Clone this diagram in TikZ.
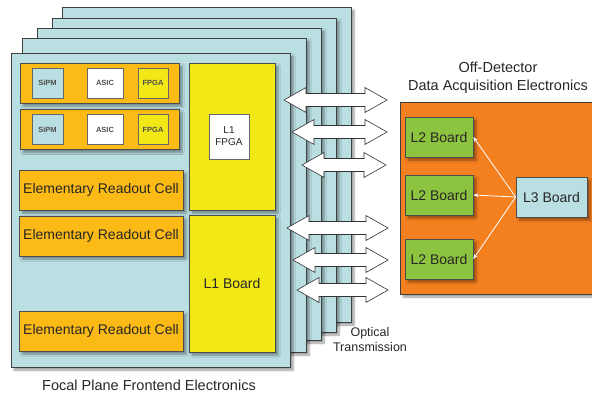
\documentclass[tikz,border=0pt]{standalone}
\usepackage{fontspec}
\setmainfont{Liberation Sans}
\usetikzlibrary{shadows.blur,arrows.meta}

\definecolor{panelblue}{RGB}{186,223,226}
\definecolor{cellorange}{RGB}{252,186,22}
\definecolor{boardyellow}{RGB}{242,232,22}
\definecolor{daqorange}{RGB}{245,128,32}
\definecolor{boardgreen}{RGB}{141,196,63}

\begin{document}
\begin{tikzpicture}[x=1pt, y=-1pt,
	softshadow/.style={blur shadow={shadow xshift=3pt, shadow yshift=-3pt, shadow blur steps=6, shadow opacity=40}},
	panel/.style={fill=panelblue, draw=black!75, line width=0.7pt, softshadow},
	box/.style={draw=black!70, line width=0.6pt, inner sep=0pt, text=black!85, softshadow},
	cell/.style={box, fill=cellorange, minimum width=164pt, minimum height=40pt, font=\fontsize{14}{16}\selectfont},
	chip/.style={draw=black!60, line width=0.6pt, inner sep=0pt, minimum width=#1, minimum height=30pt, text=black!70, font=\fontsize{7.5}{9}\selectfont\bfseries},
	board/.style={box, minimum width=68pt, minimum height=40pt, font=\fontsize{14}{16}\selectfont},
	link/.style={draw=black!80, fill=white, line width=0.6pt, line join=miter},
	label/.style={text=black!85, align=center}]
	\clip (0,0) rectangle (592,396);
	
	% stacked frontend panels, back to front
	\foreach \l/\t/\r/\b in {62/7/351/322, 52/18/336/332, 37/28/321/340, 22/38/306/352, 11/53/290/367}
		\draw[panel] (\l,\t) rectangle (\r,\b);
	
	% readout cells with chips
	\foreach \i/\y in {1/83, 2/129.5} {
		\node[box, fill=cellorange, minimum width=159pt, minimum height=40pt] (row\i) at (99.5,\y) {};
		\node[chip=31pt, fill=panelblue] (sipm\i) at (47.5,\y) {SiPM};
		\node[chip=36pt, fill=white] (asic\i) at (105,\y) {ASIC};
		\node[chip=30pt, fill=boardyellow] (fpga\i) at (153,\y) {FPGA};
	}
	\node[cell] (cell3) at (101,190) {Elementary Readout Cell};
	\node[cell] (cell4) at (101,236) {Elementary Readout Cell};
	\node[cell] (cell5) at (101,331) {Elementary Readout Cell};
	
	% L1 boards
	\node[box, fill=boardyellow, minimum width=86pt, minimum height=147pt] (lonefpga) at (232,136.5) {};
	\node[draw=black!60, fill=white, line width=0.6pt, minimum width=40pt, minimum height=45pt, inner sep=0pt,
		align=center, text=black!85, font=\fontsize{10}{12}\selectfont] (lonechip) at (229,136.5) {L1\\FPGA};
	\node[box, fill=boardyellow, minimum width=86pt, minimum height=137pt, font=\fontsize{14}{16}\selectfont] (loneboard) at (232,283.5) {L1 Board};
	
	% off-detector electronics
	\draw[fill=daqorange, draw=black!75, line width=0.7pt, softshadow] (400,102) rectangle (600,294);
	\node[board, fill=boardgreen] (ltwo1) at (439,137) {L2 Board};
	\node[board, fill=boardgreen] (ltwo2) at (439,195) {L2 Board};
	\node[board, fill=boardgreen] (ltwo3) at (439,259) {L2 Board};
	\node[board, fill=panelblue, minimum width=71pt] (lthree) at (551.5,197) {L3 Board};
	\foreach \n in {1,2,3}
		\draw[white, line width=0.8pt, -{Stealth[length=5pt]}] (lthree.west) -- (ltwo\n.east);
	
	% optical links (double arrows)
	\foreach \a/\b/\y in {284/387/100, 292/387/132, 302/386/165, 287/388/228, 293/388/260, 297/388/290}
		\draw[link] (\a,\y) -- ++(22,-12.5) -- ++(0,6) -- ({\b-22},{\y-6.5}) -- ++(0,-6) -- (\b,\y)
			-- ++(-22,12.5) -- ++(0,-6) -- ({\a+22},{\y+6.5}) -- ++(0,6) -- cycle;
	
	% texts
	\node[label, font=\fontsize{14.5}{18}\selectfont] (daqtitle) at (498,78) {Off-Detector\\Data Acquisition Electronics};
	\node[label, font=\fontsize{12.5}{15}\selectfont] (optictitle) at (370,340) {Optical\\Transmission};
	\node[label, font=\fontsize{14.5}{17}\selectfont] (fetitle) at (149,385) {Focal Plane Frontend Electronics};
\end{tikzpicture}
\end{document}
